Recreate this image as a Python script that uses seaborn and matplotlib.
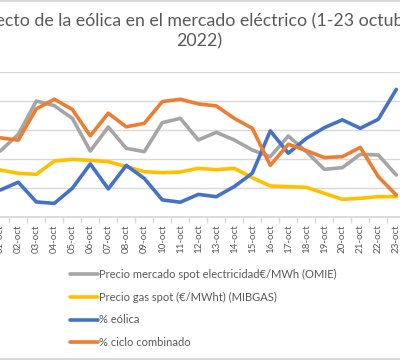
import numpy as np
import pandas as pd
import matplotlib
matplotlib.use("Agg")
import matplotlib.pyplot as plt
from matplotlib.lines import Line2D
import seaborn as sns

# Daily values, 1-23 October 2022
dias = [f"{d:02d}-oct" for d in range(1, 24)]
precio_omie = [114.3, 143.0, 200.5, 192.5, 170.6, 114.3, 155.7, 118.9, 113.2, 163.2, 170.6, 133.3,
               146.5, 133.3, 116.0, 104.5, 140.2, 113.2, 82.7, 85.6, 108.6, 107.4, 72.9]
precio_gas = [81.6, 75.8, 74.1, 97.1, 99.9, 98.2, 95.9, 87.3, 78.7, 76.9, 78.1, 84.4,
              82.1, 84.4, 68.3, 54.0, 52.8, 51.7, 41.3, 31.0, 32.7, 35.6, 35.6]
pct_eolica = [9.4, 12.1, 5.3, 4.8, 10.0, 18.4, 9.8, 17.9, 13.4, 6.0, 5.2, 7.9,
              7.1, 10.6, 15.2, 29.8, 22.1, 27.2, 30.9, 33.6, 30.7, 33.8, 44.1]
pct_ciclo = [27.4, 26.6, 37.4, 40.7, 37.2, 28.1, 35.9, 31.2, 32.4, 39.9, 40.7, 39.1,
             38.4, 34.1, 30.7, 17.9, 25.2, 23.0, 20.6, 20.9, 24.1, 14.0, 7.7]

df = pd.DataFrame({
    "dia": np.arange(len(dias)),
    "omie": precio_omie,
    "gas": precio_gas,
    "eolica": pct_eolica,
    "ciclo": pct_ciclo,
})

sns.set_theme(style="white")
plt.rcParams["font.family"] = ["Lato", "DejaVu Sans"]

txt = "#595959"
grid = "#D9D9D9"

fig = plt.figure(figsize=(4.0, 3.61), dpi=100)
W, H = 400, 361
# plot area is wider than the picture: the original screenshot is cropped left and right
ax = fig.add_axes([-8.7 / W, (H - 217.3) / H, 414 / W, 145 / H])
ax2 = ax.twinx()

lw = 2.6
sns.lineplot(data=df, x="dia", y="omie", ax=ax, color="#A5A5A5", linewidth=lw,
             label="Precio mercado spot electricidad€/MWh (OMIE)", legend=False)
sns.lineplot(data=df, x="dia", y="gas", ax=ax, color="#FFC000", linewidth=lw,
             label="Precio gas spot (€/MWht) (MIBGAS)", legend=False)
sns.lineplot(data=df, x="dia", y="eolica", ax=ax2, color="#4472C4", linewidth=lw,
             label="% eólica", legend=False)
sns.lineplot(data=df, x="dia", y="ciclo", ax=ax2, color="#ED7D31", linewidth=lw,
             label="% ciclo combinado", legend=False)

ax.set_ylim(0, 250)
ax.set_yticks(np.arange(0, 251, 50))
ax2.set_ylim(0, 50)
ax2.set_yticks(np.arange(0, 51, 10))
ax.set_xlim(-0.5, len(dias) - 0.5)
ax.grid(axis="y", color=grid, linewidth=1)
ax.set_axisbelow(True)
ax2.grid(False)

for a in (ax, ax2):
    a.set_xlabel("")
    a.set_ylabel("")
    for s in ("top", "left", "right"):
        a.spines[s].set_visible(False)
    # value axes sit outside the cropped picture
    a.tick_params(axis="y", length=0, labelleft=False, labelright=False)
ax.spines["bottom"].set_color(grid)
ax2.spines["bottom"].set_visible(False)

ax.set_xticks(df["dia"])
ax.set_xticklabels(dias, rotation=90, fontsize=7, color=txt)
ax.set_xticks(np.arange(-0.5, len(dias), 1), minor=True)
ax.tick_params(axis="x", which="major", length=0, pad=5)
ax.tick_params(axis="x", which="minor", length=4, color=grid, width=1, bottom=True)

# title (also cropped in the original)
fig.text(199 / W, 1 - 13 / H,
         "Efecto de la eólica en el mercado eléctrico (1-23 octubre\n2022)",
         ha="center", va="top", fontsize=12.8, color=txt, linespacing=1.3)

h1, l1 = ax.get_legend_handles_labels()
h2, l2 = ax2.get_legend_handles_labels()
fig.legend(h1 + h2, l1 + l2, loc="upper left", bbox_to_anchor=(70 / W, 1 - 269 / H),
           frameon=False, fontsize=8, labelcolor=txt, handlelength=2.5,
           handletextpad=0.15, labelspacing=1.05, borderpad=0, borderaxespad=0)

# chart border (only top and bottom visible)
fig.add_artist(Line2D([0, 1], [1 - 0.5 / H, 1 - 0.5 / H], color=grid, linewidth=1.5))
fig.add_artist(Line2D([0, 1], [2 / H, 2 / H], color=grid, linewidth=1.5))

fig.savefig("out.png", dpi=100)
